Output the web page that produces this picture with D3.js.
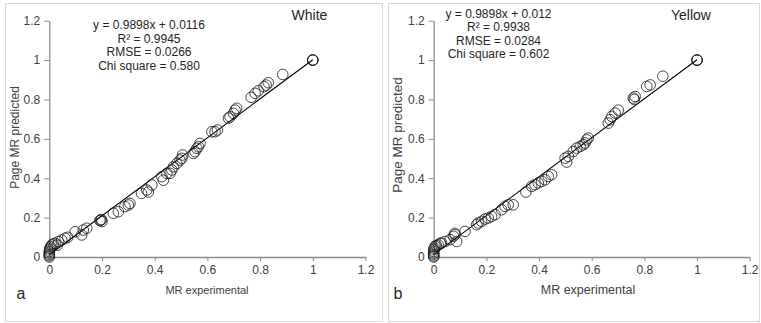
<!DOCTYPE html>
<html><head><meta charset="utf-8">
<script src="https://cdn.jsdelivr.net/npm/d3@7"></script>
<style>
html,body{margin:0;padding:0;background:#fff;}
svg{display:block;font-family:"Liberation Sans",Arial,sans-serif;}
</style></head>
<body><svg id="c" width="761" height="323"></svg>
<script>
// ---- data ----
const tickValues = [0, 0.2, 0.4, 0.6, 0.8, 1, 1.2];
const tickLabels = ["0", "0.2", "0.4", "0.6", "0.8", "1", "1.2"];
const panelNames = ["White", "Yellow"];
const panelLetters = ["a", "b"];
const xTitle = "MR experimental";
const yTitle = "Page MR predicted";

const whiteX = [1.0,1.0,1.0,0.886,0.831,0.823,0.815,0.793,0.781,0.766,0.711,0.705,0.699,0.686,0.680,
  0.638,0.629,0.617,0.572,0.566,0.560,0.553,0.547,0.506,0.503,0.496,0.484,0.471,0.465,0.458,0.446,
  0.433,0.427,0.389,0.376,0.370,0.350,0.306,0.300,0.287,0.262,0.243,0.200,0.198,0.195,0.192,0.142,
  0.129,0.123,0.098,0.070,0.060,0.047,0.035,0.030,0.022,0.015,0.009,0.005,0.002,0.001,0.000,0.000,
  0.000,0.000,0.000];
const whiteY = [1.0,1.0,1.0,0.927,0.885,0.873,0.865,0.844,0.831,0.811,0.755,0.746,0.729,0.712,0.705,
  0.645,0.636,0.636,0.577,0.560,0.552,0.535,0.526,0.518,0.501,0.492,0.475,0.458,0.442,0.425,0.425,
  0.390,0.408,0.366,0.330,0.340,0.323,0.272,0.264,0.256,0.230,0.222,0.180,0.190,0.188,0.185,0.146,
  0.137,0.112,0.128,0.100,0.095,0.086,0.078,0.060,0.070,0.066,0.061,0.052,0.044,0.036,0.028,0.020,
  0.012,0.006,0.000];

const yellowX = [1.0,1.0,1.0,0.870,0.822,0.809,0.765,0.758,0.762,0.701,0.689,0.676,0.670,0.663,
  0.587,0.581,0.575,0.568,0.556,0.543,0.530,0.511,0.499,0.505,0.448,0.435,0.423,0.410,0.397,0.385,
  0.372,0.350,0.302,0.283,0.271,0.258,0.233,0.220,0.207,0.195,0.182,0.169,0.163,0.119,0.081,0.075,
  0.087,0.080,0.062,0.043,0.030,0.025,0.017,0.010,0.005,0.002,0.000,0.000,0.000,0.000,0.000,0.000];
const yellowY = [1.0,1.0,1.0,0.918,0.874,0.866,0.815,0.807,0.800,0.746,0.731,0.714,0.697,0.680,
  0.604,0.595,0.579,0.570,0.561,0.553,0.536,0.511,0.502,0.482,0.418,0.409,0.392,0.384,0.376,0.367,
  0.359,0.330,0.265,0.265,0.257,0.240,0.215,0.206,0.198,0.193,0.181,0.173,0.164,0.130,0.113,0.105,
  0.079,0.120,0.088,0.079,0.071,0.070,0.062,0.058,0.054,0.045,0.037,0.028,0.020,0.012,0.005,0.000];

const slopes = [0.9898, 0.9898];
const intercepts = [0.0116, 0.012];
const statLines = [
  ["y = 0.9898x + 0.0116", "R² = 0.9945", "RMSE = 0.0266", "Chi square = 0.580"],
  ["y = 0.9898x + 0.012", "R² = 0.9938", "RMSE = 0.0284", "Chi square = 0.602"]
];
const seriesX = [whiteX, yellowX];
const seriesY = [whiteY, yellowY];

// ---- layout ----
const panels = [
  {box:[5,3,377,318], x0:49.3, x1:365.5, statX:149, statY:[29,42.5,56,69.5], nameX:309.5, letterX:21,
   xtX:207, xtSize:11, ytX:19, ytY:137.5, ytSize:12},
  {box:[388,3,371,318], x0:433.7, x1:749.7, statX:498.5, statY:[17.5,31,44.5,58], nameX:691, letterX:398,
   xtX:588, xtSize:12.5, ytX:402, ytY:135, ytSize:13.5}
];
const yTop = 20.7, yBot = 257;
const svg = d3.select("#c");
const axisCol = "#8c8c8c", textCol = "#404040";

panels.forEach((p, i) => {
  svg.append("rect").attr("x", p.box[0]+0.5).attr("y", p.box[1]+0.5)
    .attr("width", p.box[2]).attr("height", p.box[3])
    .attr("fill", "#fff").attr("stroke", "#d9d9d9").attr("stroke-width", 1);

  const x = d3.scaleLinear().domain([0, 1.2]).range([p.x0, p.x1]);
  const y = d3.scaleLinear().domain([0, 1.2]).range([yBot, yTop]);

  const gy = svg.append("g").attr("transform", `translate(${p.x0},0)`)
    .call(d3.axisLeft(y).tickValues(tickValues).tickFormat((d, k) => tickLabels[k]).tickSizeInner(5).tickSizeOuter(0).tickPadding(4));
  const gx = svg.append("g").attr("transform", `translate(0,${yBot})`)
    .call(d3.axisBottom(x).tickValues(tickValues).tickFormat((d, k) => tickLabels[k]).tickSizeInner(4).tickSizeOuter(0).tickPadding(4));
  [gx, gy].forEach(g => {
    g.select(".domain").attr("stroke", axisCol).attr("stroke-width", 1.3);
    g.selectAll(".tick line").attr("stroke", axisCol);
    g.selectAll(".tick text").attr("fill", textCol).style("font-size", "12px")
      .style("font-family", '"Liberation Sans",Arial,sans-serif');
  });

  // regression line
  svg.append("line")
    .attr("x1", x(0)).attr("y1", y(intercepts[i]))
    .attr("x2", x(1)).attr("y2", y(slopes[i] + intercepts[i]))
    .attr("stroke", "#000").attr("stroke-width", 1.1);

  // points
  const pts = seriesX[i].map((v, k) => [v, seriesY[i][k]]);
  svg.append("g").selectAll("circle").data(pts).join("circle")
    .attr("cx", d => x(d[0])).attr("cy", d => y(d[1])).attr("r", 5.3)
    .attr("fill", "none").attr("stroke", "#1a1a1a").attr("stroke-width", 0.8);

  // stats text
  statLines[i].forEach((t, k) => {
    svg.append("text").attr("x", p.statX).attr("y", p.statY[k])
      .attr("text-anchor", "middle").attr("fill", "#262626")
      .style("font-size", "12px").text(t);
  });
  svg.append("text").attr("x", p.nameX).attr("y", 20).attr("text-anchor", "middle")
    .attr("fill", "#262626").style("font-size", "14px").text(panelNames[i]);

  // axis titles
  svg.append("text").attr("x", p.xtX).attr("y", 294).attr("text-anchor", "middle")
    .attr("fill", textCol).style("font-size", p.xtSize + "px").text(xTitle);
  svg.append("text").attr("transform", `translate(${p.ytX},${p.ytY}) rotate(-90)`)
    .attr("text-anchor", "middle").attr("fill", textCol).style("font-size", p.ytSize + "px").text(yTitle);
  svg.append("text").attr("x", p.letterX).attr("y", 299).attr("text-anchor", "middle")
    .attr("fill", "#262626").style("font-size", "16px").text(panelLetters[i]);
});
</script></body></html>
